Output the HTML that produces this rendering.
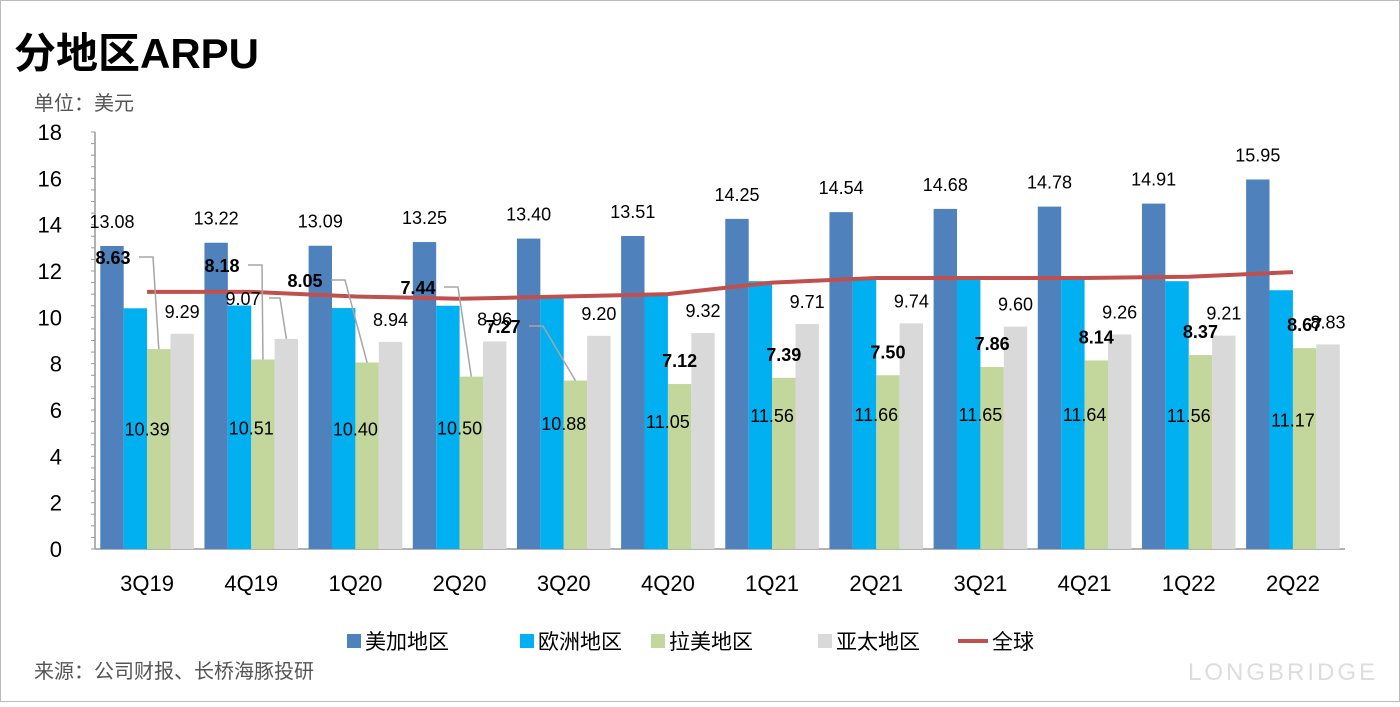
<!DOCTYPE html>
<html><head><meta charset="utf-8"><style>
body{margin:0;background:#fff;}
svg text{font-family:"Liberation Sans","Noto Sans CJK SC",sans-serif;}
</style></head><body>
<svg width="1400" height="702" xmlns="http://www.w3.org/2000/svg" id="c">
<rect x="0.5" y="0.5" width="1399" height="701" fill="#fff" stroke="#bbb"/>
<text x="14" y="68" font-size="42" font-weight="bold">分地区ARPU</text>
<text x="34" y="110" font-size="20" fill="#555">单位：美元</text>
<text x="34" y="678" font-size="20" fill="#555">来源：公司财报、长桥海豚投研</text>
<text x="1378" y="680" font-size="24" fill="#ddd" text-anchor="end" letter-spacing="3">LONGBRIDGE</text>
<g id="plot"></g>
<g id="labels"></g>
<g id="legend"></g>
</svg>
<script>
const categories=["3Q19","4Q19","1Q20","2Q20","3Q20","4Q20","1Q21","2Q21","3Q21","4Q21","1Q22","2Q22"];
const naValues=[13.08,13.22,13.09,13.25,13.40,13.51,14.25,14.54,14.68,14.78,14.91,15.95];
const euValues=[10.39,10.51,10.40,10.50,10.88,11.05,11.56,11.66,11.65,11.64,11.56,11.17];
const laValues=[8.63,8.18,8.05,7.44,7.27,7.12,7.39,7.50,7.86,8.14,8.37,8.67];
const apValues=[9.29,9.07,8.94,8.96,9.20,9.32,9.71,9.74,9.60,9.26,9.21,8.83];
const globalValues=[11.1,11.1,10.9,10.8,10.9,11.0,11.5,11.7,11.7,11.7,11.75,11.95];
const yTicks=[0,2,4,6,8,10,12,14,16,18];
const NS="http://www.w3.org/2000/svg";
const x0=95,x1=1345,yb=549,yt=132,gw=(x1-x0)/categories.length,bw=23.4,pad=(gw-4*bw)/2;
const y=v=>yb-(v/18)*(yb-yt);
const gx=i=>x0+i*gw;
const plot=document.getElementById('plot');
const labels=document.getElementById('labels');
function mk(tag,attrs,parent){const e=document.createElementNS(NS,tag);for(const k in attrs)e.setAttribute(k,attrs[k]);(parent||plot).appendChild(e);return e;}
function txt(s,x,yy,attrs,parent){const t=mk('text',Object.assign({x:x,y:yy,'text-anchor':'middle','font-size':18},attrs||{}),parent);t.textContent=s;return t;}
const ax=mk('line',{x1:x0,y1:yt,x2:x0,y2:yb,stroke:'#999','stroke-width':1.5});

for(let v=0;v<=18;v+=0.5){const tk=mk('line',{x1:x0-4,x2:x0,y1:y(v),y2:y(v),stroke:'#999'});}
yTicks.forEach(v=>{const t=txt(String(v),62,y(v)+8,{'font-size':22,'text-anchor':'end'});});
const xa=mk('line',{x1:x0,y1:yb,x2:x1,y2:yb,stroke:'#999','stroke-width':1.5});

const series=[[naValues,'#4f81bd','na'],[euValues,'#00b0f0','eu'],[laValues,'#c3d69b','la'],[apValues,'#d9d9d9','ap']];
const laLabelPos={0:[113,264],1:[222,272],2:[305,287],3:[418,294],4:[503,333]};
categories.forEach((c,i)=>{
  const t=txt(c,gx(i)+gw/2,591,{'font-size':22});
  
  series.forEach((s,k)=>{
    const bx=gx(i)+pad+k*bw,v=s[0][i];
    const r=mk('rect',{x:bx,y:y(v),width:bw,height:yb-y(v),fill:s[1]});
    
    const cx=bx+bw/2;let lab;
    if(k===0){lab=txt(v.toFixed(2),cx,y(v)-18,{},labels);}
    else if(k===1){lab=txt(v.toFixed(2),bx+bw,y(v/2)+7,{},labels);}
    else if(k===2){
      if(laLabelPos[i]){const p=laLabelPos[i];lab=txt(v.toFixed(2),p[0],p[1],{'font-weight':'bold'},labels);
        const l=mk('polyline',{points:(p[0]+26)+','+(p[1]-7)+' '+(p[0]+40)+','+(p[1]-7)+' '+cx+','+y(v),fill:'none',stroke:'#a6a6a6','stroke-width':1.5},labels);
        }
      else lab=txt(v.toFixed(2),cx,y(v)-17,{'font-weight':'bold'},labels);
    } else {
      if(i===1){lab=txt(v.toFixed(2),243,305,{},labels);
        const l=mk('polyline',{points:'269,298 280,298 '+cx+','+y(v),fill:'none',stroke:'#a6a6a6','stroke-width':1.5},labels);
        }
      else lab=txt(v.toFixed(2),cx,y(v)-16,{},labels);
    }
    
  });
});
const pts=globalValues.map((v,i)=>(gx(i)+gw/2)+','+y(v)).join(' ');
const gl=mk('polyline',{points:pts,fill:'none',stroke:'#c0504d','stroke-width':4,'stroke-linejoin':'round'});

const lg=document.getElementById('legend');
const legItems=[['美加地区','#4f81bd',347],['欧洲地区','#00b0f0',520],['拉美地区','#c3d69b',651],['亚太地区','#d9d9d9',818]];
legItems.forEach(it=>{
  const r=mk('rect',{x:it[2],y:634,width:14,height:14,fill:it[1]},lg);
  
  const t=mk('text',{x:it[2]+18,y:649,'font-size':21},lg);t.textContent=it[0];
  
});
const ll=mk('line',{x1:958,x2:988,y1:641,y2:641,stroke:'#c0504d','stroke-width':4},lg);

const lt=mk('text',{x:992,y:649,'font-size':21},lg);lt.textContent='全球';

</script>
</body></html>
